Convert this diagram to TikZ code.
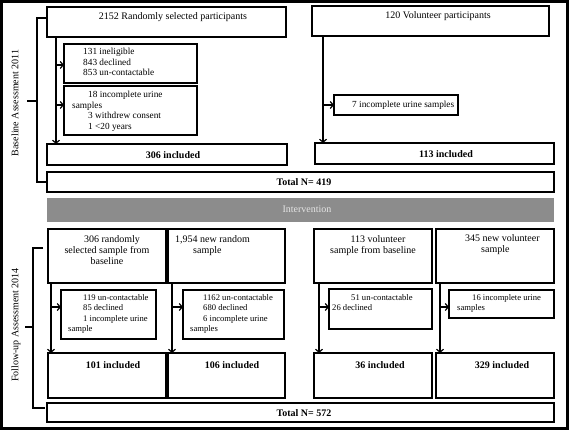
\documentclass[tikz,border=0pt]{standalone}
\usepackage{fontspec}
\setmainfont{Liberation Serif}
\usetikzlibrary{arrows.meta,calc}
\tikzset{
  bigbox/.style={draw=black, line width=1.9pt, inner sep=0pt, outer sep=0pt},
  smallbox/.style={draw=black, line width=1.3pt, inner sep=0pt, outer sep=0pt},
  txt/.style={inner sep=0pt, font=\fontsize{10}{11}\selectfont},
  stxt/.style={inner sep=0pt, align=left, font=\fontsize{9.3}{10.6}\selectfont},
  ftxt/.style={inner sep=0pt, align=left, font=\fontsize{8.6}{10.5}\selectfont},
  btxt/.style={inner sep=0pt, font=\fontsize{10}{11}\selectfont\bfseries},
  flow/.style={draw=black, line width=1.3pt, -{Straight Barb[length=3pt,width=7pt,line width=1.2pt]}},
  brace/.style={draw=black, line width=1.2pt},
}
\newcommand\mkbox[6]{\node[#6, minimum width={(#4)-(#2)}, minimum height={(#5)-(#3)}] (#1) at ({((#2)+(#4))/2},{((#3)+(#5))/2}) {};}
\begin{document}
\begin{tikzpicture}[x=1pt,y=-1pt]
\useasboundingbox (0,0) rectangle (569,430);
\draw[line width=2.6pt] (1.3,1.3) rectangle (567.7,428.7);

% ---------- Baseline ----------
\mkbox{rand}{47}{7}{286}{37}{bigbox}
\node[txt] (randt) at (173,17) {2152 Randomly selected participants};
\mkbox{vol}{312}{6}{549}{36}{bigbox}
\node[txt] (volt) at (438,16) {120 Volunteer participants};

\mkbox{ex1}{64}{44}{197}{83}{smallbox}
\node[stxt, anchor=north west] (ex1t) at (83,48) {131 ineligible\\843 declined\\853 un-contactable};
\mkbox{ex2}{64}{86}{197}{135}{smallbox}
\node[stxt, anchor=north west] (ex2t) at (72,91) {\hspace*{16pt}18 incomplete urine\\samples\\\hspace*{16pt}3 withdrew consent\\\hspace*{16pt}1 <20 years};
\mkbox{ex3}{334}{95}{458}{115}{smallbox}
\node[stxt, anchor=west] (ex3t) at (352,105) {7 incomplete urine samples};

\mkbox{inc1}{47}{144}{287}{165}{bigbox}
\node[btxt] (inc1t) at (173,155) {306 included};
\mkbox{inc2}{315}{143}{554}{164}{bigbox}
\node[btxt] (inc2t) at (446,154) {113 included};
\mkbox{tot1}{47}{172}{554}{192}{bigbox}
\node[btxt] (tot1t) at (304,182) {Total N= 419};

\coordinate (b1) at (56,37);
\draw[flow] (b1) -- (b1 |- inc1.north);
\draw[flow] (56,65) -- (ex1.west |- 0,65);
\draw[flow] (56,105) -- (ex2.west |- 0,105);
\coordinate (b2) at (323,36);
\draw[flow] (b2) -- (b2 |- inc2.north);
\draw[flow] (323,105) -- (ex3.west |- 0,105);

% brace baseline
\draw[brace] (47,18) -- (37,18) -- (37,182) -- (47,182);
\draw[brace] (37,101) -- (27,101);
\node[txt, rotate=90] (lab1) at (15,103) {Baseline Assessment 2011};

% ---------- Intervention ----------
\node[fill=black!45, draw=none, inner sep=0pt, minimum width=507, minimum height=24] (int) at (300.5,210) {};
\node[txt, text=black!10] (intt) at (307,209) {Intervention};

% ---------- Follow-up ----------
\mkbox{fa}{48}{229}{166}{283}{bigbox}
\node[txt, align=center, anchor=north] (fat) at (107,235) {\hspace*{10pt}306 randomly\\selected sample from\\baseline};
\mkbox{fb}{168}{229}{285}{283}{bigbox}
\node[txt, align=left, anchor=north west] (fbt) at (175,235) {1,954 new random\\\hspace*{18pt}sample};
\mkbox{fc}{314}{229}{432}{283}{bigbox}
\node[txt, align=center, anchor=north] (fct) at (373,235) {\hspace*{10pt}113 volunteer\\sample from baseline};
\mkbox{fd}{436}{229}{554}{283}{bigbox}
\node[txt, align=left, anchor=north west] (fdt) at (465,234) {345 new volunteer\\\hspace*{16pt}sample};

\mkbox{xa}{61}{290}{156}{339}{smallbox}
\node[ftxt, anchor=north west] (xat) at (68,294) {\hspace*{15pt}119 un-contactable\\\hspace*{15pt}85 declined\\\hspace*{15pt}1 incomplete urine\\sample};
\mkbox{xb}{183}{290}{284}{339}{smallbox}
\node[ftxt, anchor=north west] (xbt) at (190,294) {\hspace*{13pt}1162 un-contactable\\\hspace*{13pt}680 declined\\\hspace*{13pt}6 incomplete urine\\samples};
\mkbox{xc}{329}{289}{432}{329}{smallbox}
\node[ftxt, anchor=north west] (xct) at (332,294) {\hspace*{19pt}51 un-contactable\\26 declined};
\mkbox{xd}{449}{290}{554}{318}{smallbox}
\node[ftxt, anchor=north west] (xdt) at (457,294) {\hspace*{15pt}16 incomplete urine\\samples};

\mkbox{ia}{48}{353}{166}{398}{bigbox}
\node[btxt] (iat) at (113,365) {101 included};
\mkbox{ib}{168}{353}{285}{398}{bigbox}
\node[btxt] (ibt) at (232,365) {106 included};
\mkbox{ic}{314}{353}{432}{398}{bigbox}
\node[btxt] (ict) at (380,365) {36 included};
\mkbox{id}{436}{353}{554}{398}{bigbox}
\node[btxt] (idt) at (502,365) {329 included};
\mkbox{tot2}{47}{403}{554}{422}{bigbox}
\node[btxt] (tot2t) at (304,413) {Total N= 572};

\foreach \s/\xx/\bx/\ib in {fa/51/xa/ia, fb/172/xb/ib, fc/319/xc/ic, fd/440/xd/id}{
  \draw[flow] (\s.south -| \xx,0) -- (\ib.north -| \xx,0);
  \draw[flow] (\xx,307) -- (\bx.west |- 0,307);
}

% brace follow-up
\draw[brace] (43,248) -- (33,248) -- (33,408) -- (45,408);
\draw[brace] (33,327) -- (25,327);
\node[txt, rotate=90] (lab2) at (16,325) {Follow-up Assessment 2014};
\end{tikzpicture}
\end{document}
